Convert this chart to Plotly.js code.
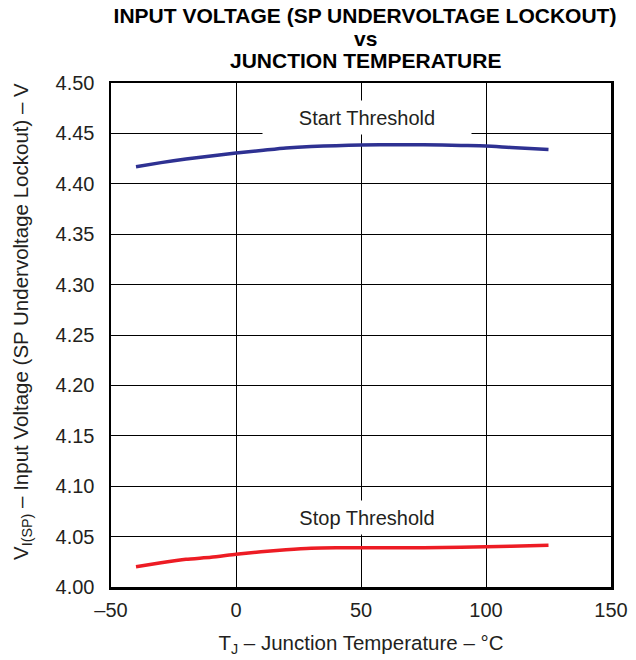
<!DOCTYPE html>
<html>
<head>
<meta charset="utf-8">
<script src="https://cdn.plot.ly/plotly-3.0.1.min.js"></script>
<style>html,body{margin:0;padding:0;background:#fff;}#chart{width:636px;height:660px;}</style>
</head>
<body>
<div id="chart"></div>
<script>
// Data
const temperatures = [-40, -30, -20, -10, 0, 10, 20, 30, 40, 50, 65, 75, 90, 100, 110, 125];
const startThreshold = [4.417, 4.421, 4.4245, 4.4275, 4.4305, 4.433, 4.4355, 4.437, 4.4378, 4.4385, 4.4388, 4.4388, 4.438, 4.4375, 4.436, 4.434];
const stopThreshold = [4.020, 4.024, 4.0275, 4.0295, 4.0325, 4.035, 4.037, 4.0385, 4.039, 4.039, 4.039, 4.039, 4.0395, 4.040, 4.0405, 4.0415];
const xTickVals = [-50, 0, 50, 100, 150];
const xTickText = ["\u201350", "0", "50", "100", "150"];
const yTickVals = [4.00, 4.05, 4.10, 4.15, 4.20, 4.25, 4.30, 4.35, 4.40, 4.45, 4.50];

const FONT = "Liberation Sans, Arial, Helvetica, sans-serif";
const TXT = "#231f20";

const traces = [
  {x: temperatures, y: startThreshold, type: "scatter", mode: "lines", name: "Start Threshold",
   line: {color: "#2e3192", width: 3.5, shape: "spline", smoothing: 0.6}},
  {x: temperatures, y: stopThreshold, type: "scatter", mode: "lines", name: "Stop Threshold",
   line: {color: "#ed1c24", width: 3.5, shape: "spline", smoothing: 0.6}}
];

const layout = {
  width: 636, height: 660,
  margin: {l: 111, r: 25, t: 83, b: 73},
  paper_bgcolor: "#fff", plot_bgcolor: "#fff",
  showlegend: false,
  font: {family: FONT, size: 20, color: TXT},
  title: {text: "<b>INPUT VOLTAGE (SP UNDERVOLTAGE LOCKOUT)</b>", font: {family: FONT, size: 21, color: "#000"},
          x: 0.508, xref: "paper", xanchor: "center", y: 1, yref: "container", yanchor: "top", pad: {t: 8}},
  xaxis: {range: [-50, 150], tickmode: "array", tickvals: xTickVals, ticktext: xTickText,
          showgrid: true, gridcolor: "#000", gridwidth: 1, zeroline: false,
          showline: true, linecolor: "#000", linewidth: 2.5, mirror: true, ticks: "",
          ticklabelstandoff: 3, tickfont: {family: FONT, size: 20, color: TXT},
          title: {text: "T<sub>J</sub> \u2013 Junction Temperature \u2013 \u00b0C", font: {family: FONT, size: 20.5, color: TXT}, standoff: 16}},
  yaxis: {range: [4.0, 4.5], tickmode: "array", tickvals: yTickVals, tickformat: ".2f",
          showgrid: true, gridcolor: "#000", gridwidth: 1, zeroline: false,
          showline: true, linecolor: "#000", linewidth: 2.5, mirror: true, ticks: "",
          ticklabelstandoff: 10, tickfont: {family: FONT, size: 20, color: TXT}},
  annotations: [
    {text: "<b>vs</b>", xref: "paper", yref: "paper", x: 0.508, y: 1, yshift: 45, xanchor: "center", yanchor: "middle",
     showarrow: false, font: {family: FONT, size: 21, color: "#000"}},
    {text: "<b>JUNCTION TEMPERATURE</b>", xref: "paper", yref: "paper", x: 0.508, y: 1, yshift: 23, xanchor: "center", yanchor: "middle",
     showarrow: false, font: {family: FONT, size: 21, color: "#000"}},
    {text: "V<sub>I(SP)</sub> \u2013 Input Voltage (SP Undervoltage Lockout) \u2013 V", xref: "paper", yref: "paper",
     x: 0, xshift: -89, y: 0.5, yshift: 13, textangle: -90, xanchor: "center", yanchor: "middle",
     showarrow: false, font: {family: FONT, size: 20.5, color: TXT}},
    {text: "Start Threshold", x: 52.2, y: 4.4655, xref: "x", yref: "y", showarrow: false,
     width: 208, height: 33, bgcolor: "#fff", borderpad: 0, font: {family: FONT, size: 20, color: TXT}},
    {text: "Stop Threshold", x: 52.2, y: 4.069, xref: "x", yref: "y", showarrow: false,
     width: 208, height: 33, bgcolor: "#fff", borderpad: 0, font: {family: FONT, size: 20, color: TXT}}
  ]
};

Plotly.newPlot("chart", traces, layout, {displayModeBar: false, staticPlot: true});
</script>
</body>
</html>
